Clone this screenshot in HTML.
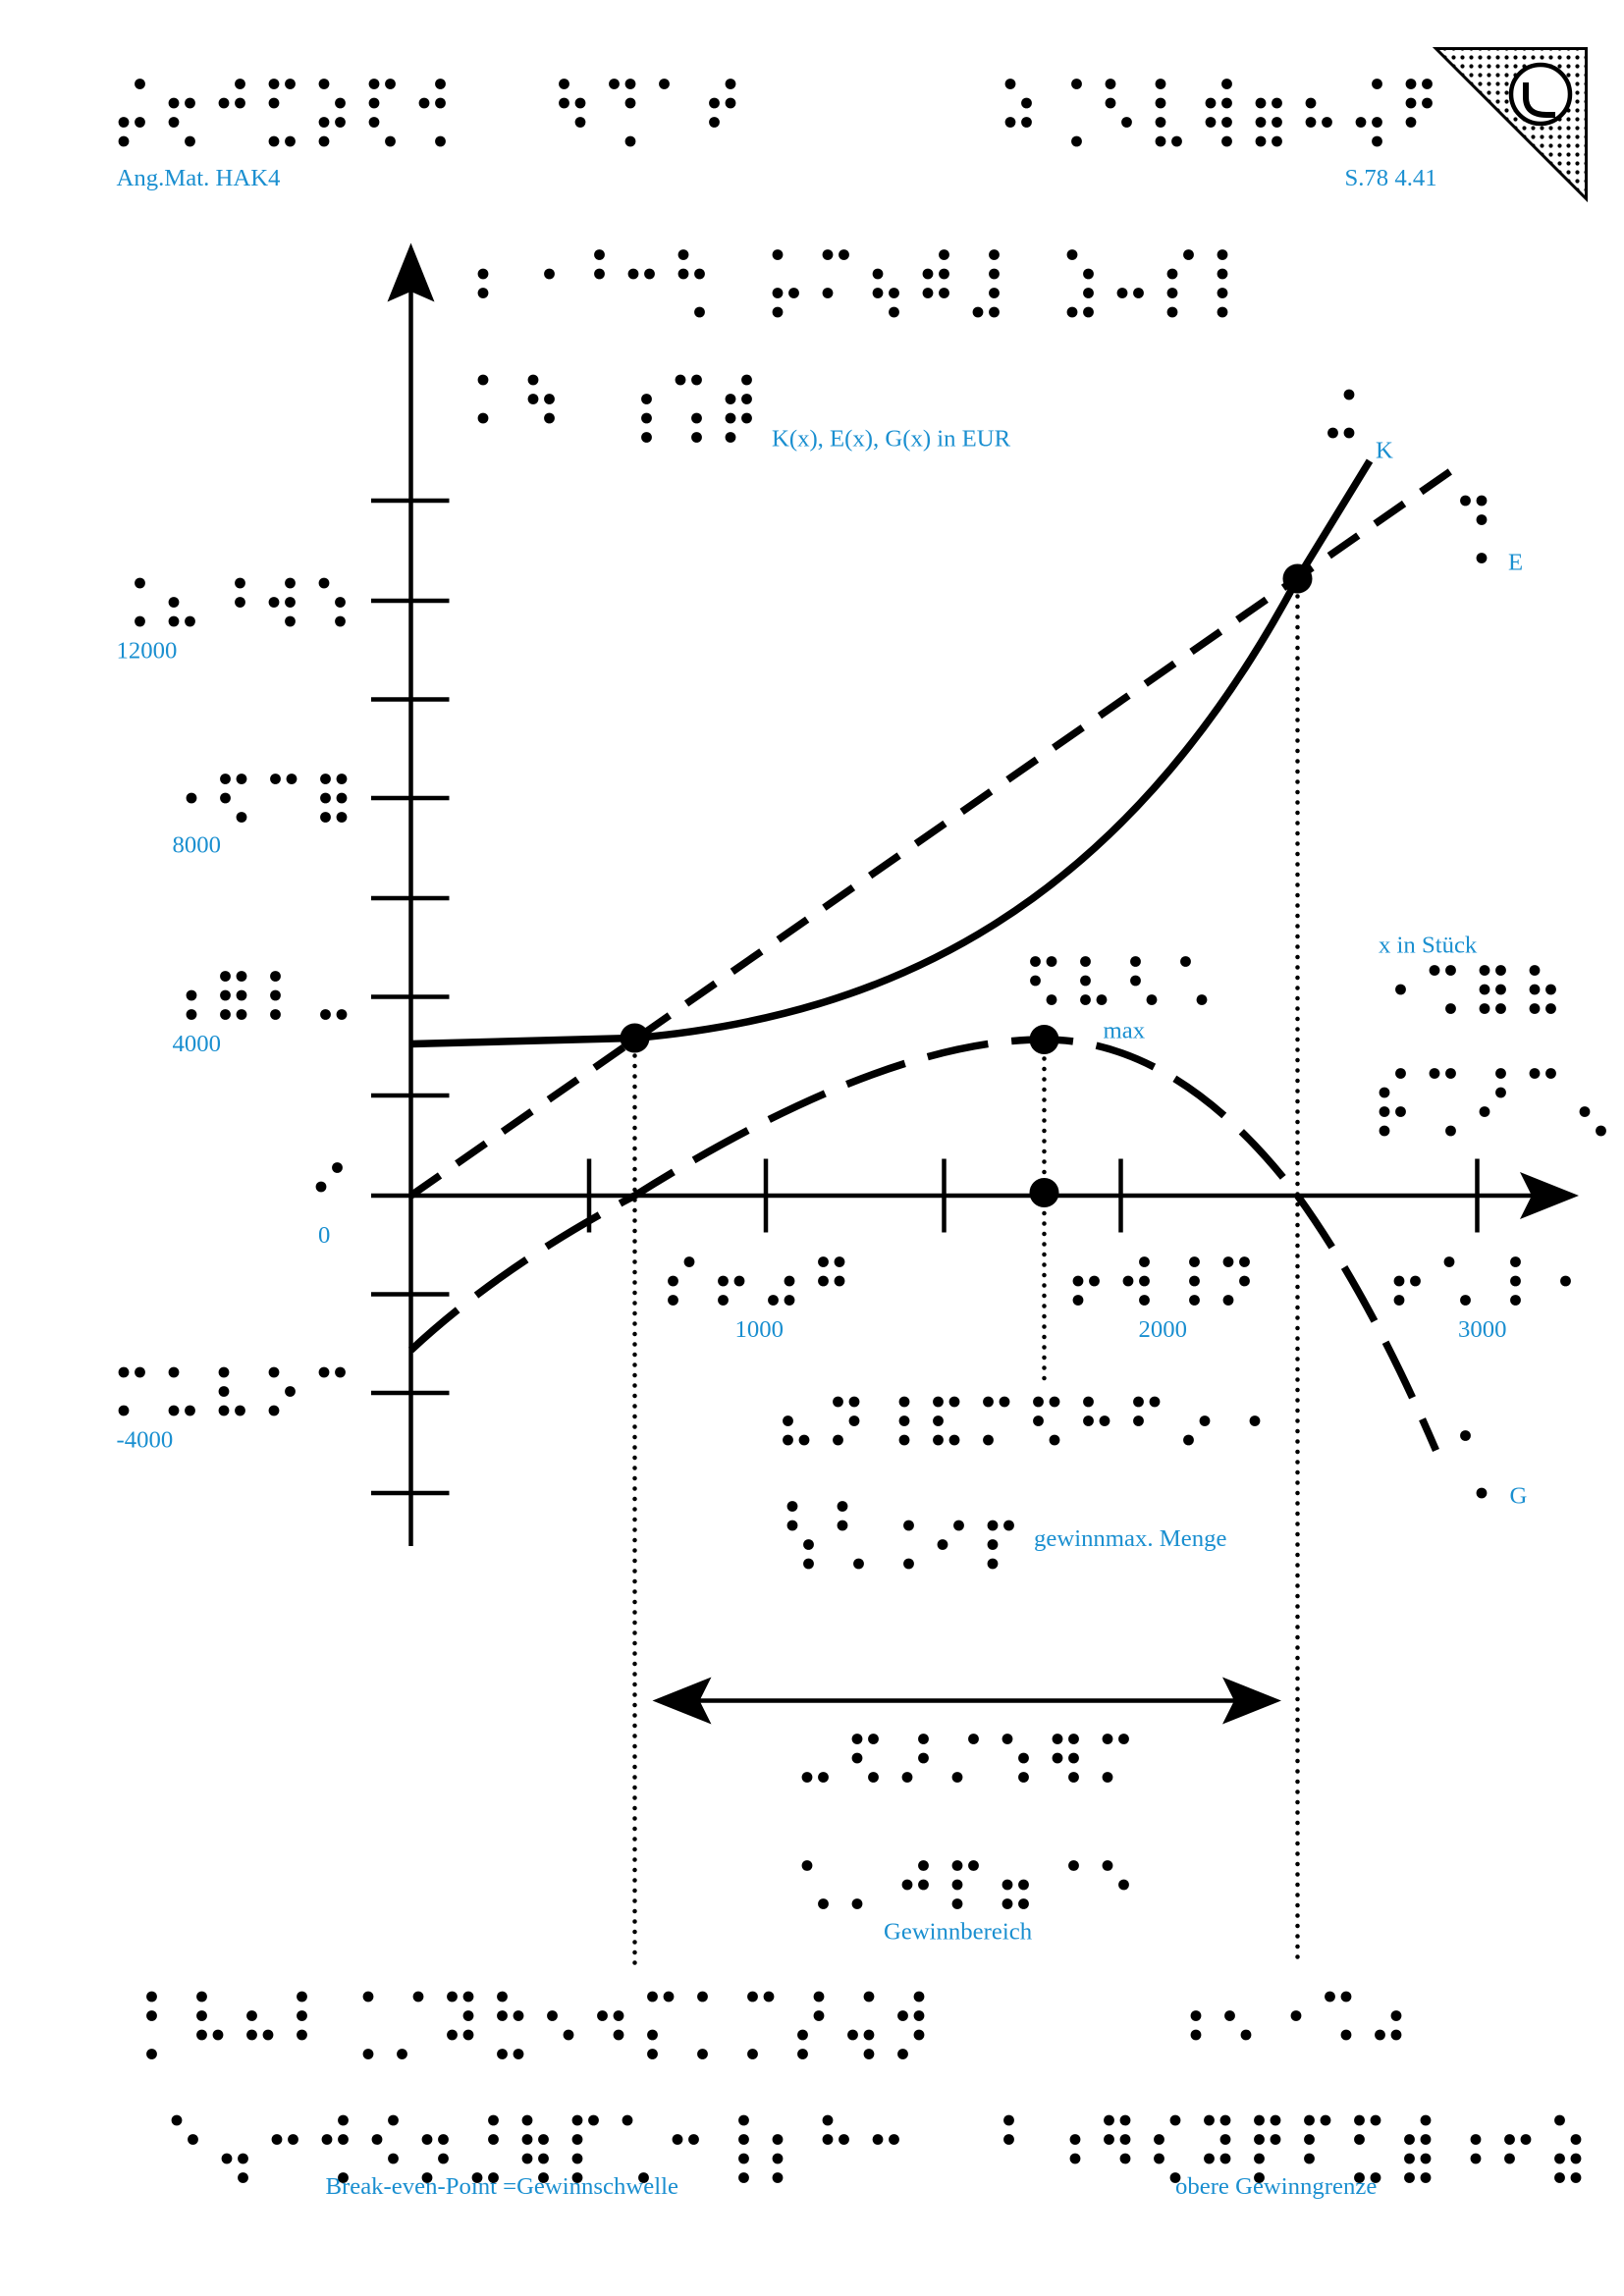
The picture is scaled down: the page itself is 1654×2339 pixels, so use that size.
<!DOCTYPE html>
<html><head><meta charset="utf-8"><style>
html,body{margin:0;padding:0;background:#fff}
svg{display:block}
text{font-family:"Liberation Serif",serif;fill:#1a8fd0;font-size:16.5px}
</style></head><body>
<svg id="s" xmlns="http://www.w3.org/2000/svg" width="1654" height="2339" viewBox="0 0 1102.67 1559.33">
<defs>
<pattern id="dp" width="6" height="6" patternUnits="userSpaceOnUse"><circle cx="3" cy="3" r="1.4" fill="#000"/></pattern>
</defs>
<polygon points="975,33 1077,33 1077,135" fill="url(#dp)" stroke="#000" stroke-width="2"/>
<circle cx="1046" cy="64" r="20" fill="#fff" stroke="#000" stroke-width="3"/>
<path d="M1036,56 v10 q0,12 14,12 h6" fill="none" stroke="#000" stroke-width="4"/>
<line x1="279" y1="1050" x2="279" y2="190" stroke="#000" stroke-width="3"/>
<polygon points="279,165 263,205 279,198 295,205" fill="#000"/>
<line x1="252" y1="812" x2="1050" y2="812" stroke="#000" stroke-width="3"/>
<polygon points="1072,812 1032,796 1040,812 1032,828" fill="#000"/>
<g stroke="#000" stroke-width="3">
<line x1="252" y1="340" x2="305" y2="340"/><line x1="252" y1="408" x2="305" y2="408"/>
<line x1="252" y1="475" x2="305" y2="475"/><line x1="252" y1="542" x2="305" y2="542"/>
<line x1="252" y1="610" x2="305" y2="610"/><line x1="252" y1="677" x2="305" y2="677"/>
<line x1="252" y1="744" x2="305" y2="744"/><line x1="252" y1="879" x2="305" y2="879"/>
<line x1="252" y1="946" x2="305" y2="946"/><line x1="252" y1="1014" x2="305" y2="1014"/>
<line x1="400" y1="787" x2="400" y2="837"/><line x1="520" y1="787" x2="520" y2="837"/>
<line x1="641" y1="787" x2="641" y2="837"/><line x1="761" y1="787" x2="761" y2="837"/>
<line x1="1003" y1="787" x2="1003" y2="837"/>
</g>
<path d="M279,709 L431,705 C600,690 760,620 881,393 L930,313" fill="none" stroke="#000" stroke-width="5"/>
<line x1="279" y1="812" x2="995" y2="313" stroke="#000" stroke-width="5" stroke-dasharray="24,14"/>
<path d="M279,917 Q340,860 431,812 Q600,706 709,706 Q800,706 881,812 Q930,880 975,985" fill="none" stroke="#000" stroke-width="5" stroke-dasharray="42,16"/>
<g stroke="#000" stroke-width="3" stroke-dasharray="0,7" stroke-linecap="round">
<line x1="431" y1="710" x2="431" y2="1335"/>
<line x1="709" y1="712" x2="709" y2="940"/>
<line x1="881" y1="398" x2="881" y2="1335"/>
</g>
<g fill="#000"><circle cx="431" cy="705" r="10"/><circle cx="709" cy="706" r="10"/><circle cx="709" cy="810" r="10"/><circle cx="881" cy="393" r="10"/></g>
<line x1="460" y1="1155" x2="852" y2="1155" stroke="#000" stroke-width="3"/>
<polygon points="443,1155 483,1139 475,1155 483,1171" fill="#000"/>
<polygon points="870,1155 830,1139 838,1155 830,1171" fill="#000"/>
<text x="79" y="126">Ang.Mat. HAK4</text>
<text x="913" y="126">S.78 4.41</text>
<text x="524" y="303">K(x), E(x), G(x) in EUR</text>
<text x="934" y="311">K</text>
<text x="1024" y="387">E</text>
<text x="1025" y="1021">G</text>
<text x="79" y="447">12000</text>
<text x="117" y="579">8000</text>
<text x="117" y="714">4000</text>
<text x="216" y="844">0</text>
<text x="79" y="983">-4000</text>
<text x="499" y="908">1000</text>
<text x="773" y="908">2000</text>
<text x="990" y="908">3000</text>
<text x="749" y="705">max</text>
<text x="936" y="647">x in Stück</text>
<text x="702" y="1050">gewinnmax. Menge</text>
<text x="600" y="1317">Gewinnbereich</text>
<text x="221" y="1490">Break-even-Point =Gewinnschwelle</text>
<text x="798" y="1490">obere Gewinngrenze</text>
<g id="br"></g>
</svg>
<script>
(function(){
var g=document.getElementById('br');var seed=7;
function rnd(){seed=(seed*9301+49297)%233280;return seed/233280;}
var groups=[[84,57,320,4],[383,57,500,4],[686,57,968,4],[328,173,465,4],[528,173,665,4],[728,173,845,4],[328,258,375,3],[428,258,500,4],
[84,396,232,3],[119,529,235,3],[119,663,235,3],[218,793,235,3],[84,932,232,3],[457,857,572,3],[732,857,848,3],[950,857,1065,3],
[703,653,805,3],[940,659,1055,3],[940,729,1077,4],[995,340,1008,4],[905,268,905,3],[995,975,1008,4],
[535,952,840,3],[538,1023,686,4],[548,1181,765,3],[548,1267,765,3],[103,1356,620,4],[120,1440,604,4],[801,1356,950,3],[685,1440,1068,4]];
var ns='http://www.w3.org/2000/svg';
groups.forEach(function(gr){
 var x0=gr[0],y=gr[1],x1=gr[2],rows=gr[3];
 for(var x=x0;x<=x1+1;x+=34){
  var cnt=0;
  for(var c=0;c<2;c++)for(var r=0;r<rows;r++){
   var p=(r==3)?0.3:0.45;
   if(rnd()<p||(cnt==0&&c==1&&r==1)){
    var cx=x+c*11; if(cx>x1+12)continue;
    var e=document.createElementNS(ns,'circle');
    e.setAttribute('cx',cx);e.setAttribute('cy',y+r*13);e.setAttribute('r',3.6);e.setAttribute('fill','#000');
    g.appendChild(e);cnt++;
   }
  }
 }
});
})();
</script>
</body></html>
